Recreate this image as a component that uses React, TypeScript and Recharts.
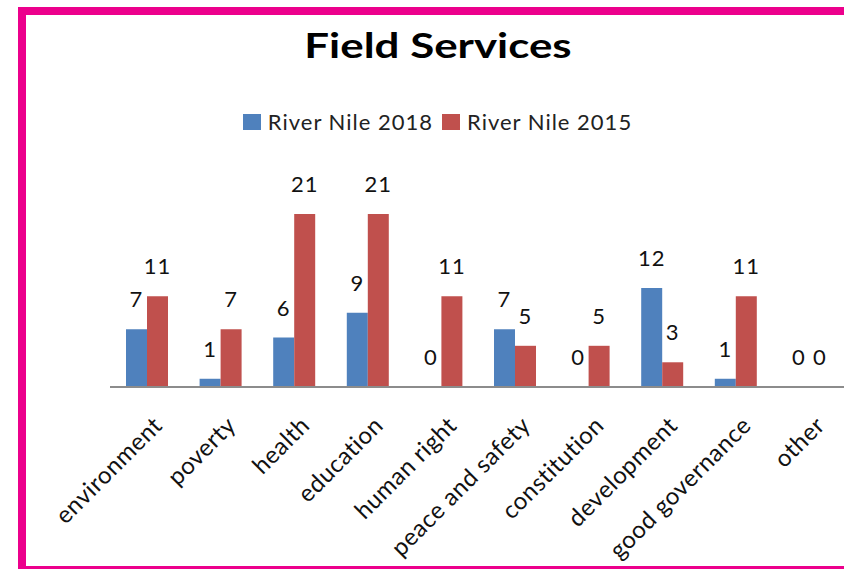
import React from 'react';
import { BarChart, Bar, XAxis, YAxis, LabelList, Legend } from 'recharts';

const chartTitle = 'Field Services';
const categories = [
  'environment',
  'poverty',
  'health',
  'education',
  'human right',
  'peace and safety',
  'constitution',
  'development',
  'good governance',
  'other',
];
const riverNile2018 = [7, 1, 6, 9, 0, 7, 0, 12, 1, 0];
const riverNile2015 = [11, 7, 21, 21, 11, 5, 5, 3, 11, 0];
const seriesNames = ['River Nile 2018', 'River Nile 2015'];
const seriesColors = ['#4F81BD', '#C0504D'];

const data = categories.map((c, i) => ({
  category: c,
  s2018: riverNile2018[i],
  s2015: riverNile2015[i],
}));

const FONT = 'Lato, "Open Sans", sans-serif';
const PINK = '#EC008C';

const CategoryTick = (props: any) => {
  const { x, y, payload } = props;
  return (
    <g transform={`translate(${Number(x) + 17},${Number(y) + 32})`}>
      <text
        transform="rotate(-45)"
        textAnchor="end"
        fontFamily={FONT}
        fontSize={24}
        letterSpacing={0.5}
        fill="#111"
      >
        {payload.value}
      </text>
    </g>
  );
};

const renderValueLabel = (props: any) => {
  const { x, y, width, value } = props;
  return (
    <text
      x={Number(x) + Number(width) / 2}
      y={Number(y) - 22}
      textAnchor="middle"
      fontFamily={FONT}
      fontSize={22}
      letterSpacing={1}
      fill="#111"
    >
      {value}
    </text>
  );
};

const zeroVisible = (v: number) => (v === 0 ? 0.01 : 0);

const LegendContent = () => (
  <div
    style={{
      display: 'flex',
      justifyContent: 'center',
      alignItems: 'center',
      fontFamily: FONT,
      fontSize: 22,
      letterSpacing: 1,
      color: '#222',
      marginLeft: 40,
    }}
  >
    {seriesNames.map((n, i) => (
      <div key={n} style={{ display: 'flex', alignItems: 'center', marginRight: 9 }}>
        <span
          style={{
            display: 'inline-block',
            width: 18,
            height: 16,
            background: seriesColors[i],
            marginRight: 7,
          }}
        />
        <span>{n}</span>
      </div>
    ))}
  </div>
);

export default function App() {
  return (
    <div
      style={{
        position: 'absolute',
        left: 0,
        top: 0,
        width: 844,
        height: 569,
        overflow: 'hidden',
        background: '#fff',
      }}
    >
      <BarChart
        width={848}
        height={569}
        data={data}
        margin={{ top: 181, right: 2, left: 110, bottom: 0 }}
        barGap={0}
        barCategoryGap={16}
      >
        <XAxis
          dataKey="category"
          interval={0}
          height={182}
          tickLine={false}
          axisLine={{ stroke: '#8c8c8c', strokeWidth: 2 }}
          tick={CategoryTick}
        />
        <YAxis hide domain={[0, 25]} />
        <Legend
          layout="horizontal"
          verticalAlign="middle"
          align="center"
          wrapperStyle={{ top: 108, left: 0, width: 844 }}
          content={LegendContent}
        />
        <Bar
          dataKey="s2018"
          name={seriesNames[0]}
          fill={seriesColors[0]}
          barSize={21}
          minPointSize={zeroVisible}
          isAnimationActive={false}
        >
          <LabelList dataKey="s2018" content={renderValueLabel} />
        </Bar>
        <Bar
          dataKey="s2015"
          name={seriesNames[1]}
          fill={seriesColors[1]}
          barSize={21}
          minPointSize={zeroVisible}
          isAnimationActive={false}
        >
          <LabelList dataKey="s2015" content={renderValueLabel} />
        </Bar>
      </BarChart>
      <div
        style={{
          position: 'absolute',
          left: 238,
          width: 400,
          top: 28,
          textAlign: 'center',
          fontFamily: FONT,
          fontWeight: 700,
          fontSize: 34,
          lineHeight: 1,
          color: '#000',
          transform: 'scaleX(1.29)',
          transformOrigin: '200px 0',
        }}
      >
        {chartTitle}
      </div>
      <div style={{ position: 'absolute', left: 18, top: 7, width: 826, height: 8, background: PINK }} />
      <div style={{ position: 'absolute', left: 18, top: 7, width: 8, height: 562, background: PINK }} />
      <div style={{ position: 'absolute', left: 18, top: 566, width: 826, height: 3, background: PINK }} />
    </div>
  );
}
